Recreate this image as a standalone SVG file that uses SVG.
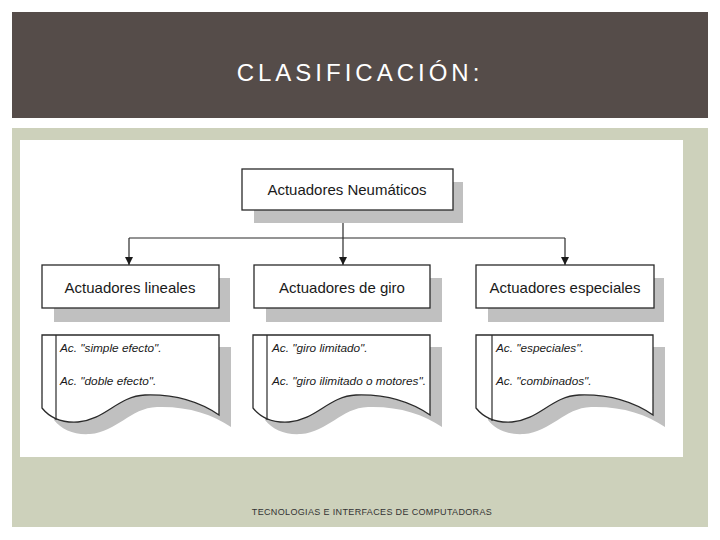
<svg xmlns="http://www.w3.org/2000/svg" xmlns:xlink="http://www.w3.org/1999/xlink" width="720" height="540" viewBox="0 0 720 540">
  <style>
    .box { fill: #ffffff; stroke: #2a2a2a; stroke-width: 1.3; }
    .shadow { fill: #c0c0c0; }
    .lbl { font-family: "Liberation Sans", Arial, sans-serif; font-size: 15px; fill: #1a1a1a; }
    .item { font-family: "Liberation Sans", Arial, sans-serif; font-size: 11.8px; font-style: italic; fill: #1a1a1a; }
    .conn { fill: none; stroke: #2a2a2a; stroke-width: 1.2; }
  </style>
  <defs>
    <marker id="arr" markerWidth="8" markerHeight="8" refX="8" refY="4" orient="auto" markerUnits="userSpaceOnUse" viewBox="0 0 8 8">
      <path d="M0,0 L8,4 L0,8 Z" fill="#1a1a1a"/>
    </marker>
    <path id="doc" d="M0,0 H177 V80 C158,67 133,59 103,60 C76,61 63,85 36,87 C20,88 8,83 0,73 Z"/>
  </defs>

  <!-- background -->
  <rect x="0" y="0" width="720" height="540" fill="#ffffff"/>
  <rect x="12" y="12" width="696" height="106" fill="#554c49"/>
  <text x="360" y="81" text-anchor="middle" font-family="Liberation Sans, Arial, sans-serif" font-size="24" letter-spacing="4" fill="#ffffff">CLASIFICACIÓN:</text>
  <rect x="12" y="128" width="696" height="399" fill="#cdd1bb"/>
  <rect x="20" y="140" width="663" height="317" fill="#ffffff"/>
  <text x="372" y="515" text-anchor="middle" font-family="Liberation Sans, Arial, sans-serif" font-size="9" letter-spacing="0.35" fill="#333333">TECNOLOGIAS E INTERFACES DE COMPUTADORAS</text>

  <!-- connectors -->
  <g id="connectors">
    <path class="conn" d="M343,210 V238"/>
    <path class="conn" d="M129,238 H565"/>
    <path class="conn" d="M129,238 V265" marker-end="url(#arr)"/>
    <path class="conn" d="M343,238 V265" marker-end="url(#arr)"/>
    <path class="conn" d="M565,238 V265" marker-end="url(#arr)"/>
  </g>

  <!-- root -->
  <g id="root">
    <rect class="shadow" x="254" y="182" width="209" height="41"/>
    <rect class="box" x="242" y="169" width="211" height="41"/>
    <text class="lbl" x="347" y="195" text-anchor="middle">Actuadores Neumáticos</text>
  </g>

  <g id="lineales">
    <rect class="shadow" x="54" y="278" width="176" height="44"/>
    <rect class="box" x="42" y="265" width="177" height="43"/>
    <text class="lbl" x="130" y="293" text-anchor="middle">Actuadores lineales</text>
  </g>
  <g id="giro">
    <rect class="shadow" x="266" y="278" width="176" height="44"/>
    <rect class="box" x="254" y="265" width="176" height="43"/>
    <text class="lbl" x="342" y="293" text-anchor="middle">Actuadores de giro</text>
  </g>
  <g id="especiales">
    <rect class="shadow" x="488" y="278" width="176" height="44"/>
    <rect class="box" x="476" y="265" width="178" height="43"/>
    <text class="lbl" x="565" y="293" text-anchor="middle">Actuadores especiales</text>
  </g>

  <!-- documents -->
  <g id="doc-lineales">
    <use xlink:href="#doc" href="#doc" class="shadow" transform="translate(54,347)"/>
    <use xlink:href="#doc" href="#doc" class="box" transform="translate(42,335)"/>
    <line x1="56" y1="335" x2="56" y2="420" stroke="#2a2a2a" stroke-width="1.2"/>
    <text class="item" x="60" y="352">Ac. "simple efecto".</text>
    <text class="item" x="60" y="385">Ac. "doble efecto".</text>
  </g>
  <g id="doc-giro">
    <use xlink:href="#doc" href="#doc" class="shadow" transform="translate(265,347)"/>
    <use xlink:href="#doc" href="#doc" class="box" transform="translate(253,335)"/>
    <line x1="267" y1="335" x2="267" y2="420" stroke="#2a2a2a" stroke-width="1.2"/>
    <text class="item" x="272" y="352">Ac. "giro limitado".</text>
    <text class="item" x="272" y="385">Ac. "giro ilimitado o motores".</text>
  </g>
  <g id="doc-especiales">
    <use xlink:href="#doc" href="#doc" class="shadow" transform="translate(488,347)"/>
    <use xlink:href="#doc" href="#doc" class="box" transform="translate(476,335)"/>
    <line x1="492" y1="335" x2="492" y2="421" stroke="#2a2a2a" stroke-width="1.2"/>
    <text class="item" x="496" y="352">Ac. "especiales".</text>
    <text class="item" x="496" y="385">Ac. "combinados".</text>
  </g>
</svg>
